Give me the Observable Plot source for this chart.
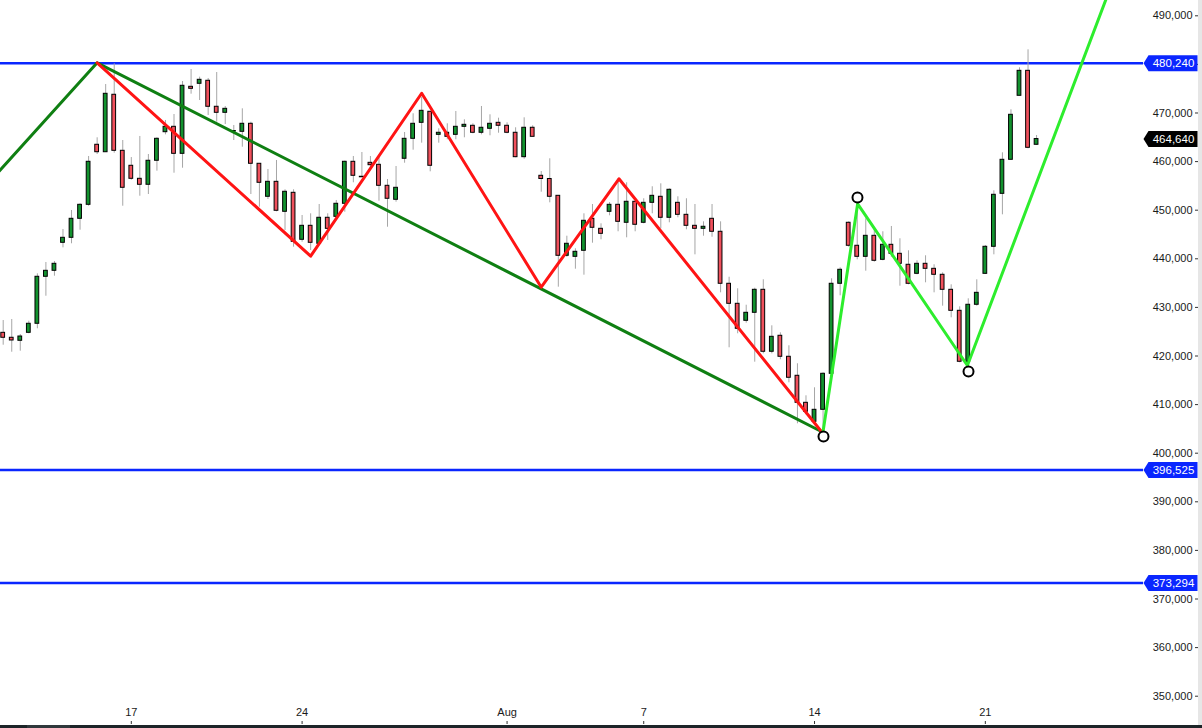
<!DOCTYPE html>
<html><head><meta charset="utf-8">
<script src="https://cdn.jsdelivr.net/npm/d3@7"></script>
<script src="https://cdn.jsdelivr.net/npm/@observablehq/plot@0.6"></script>
<style>
html,body{margin:0;padding:0;background:#fff;}
#wrap{position:relative;width:1202px;height:728px;overflow:hidden;background:#fff;}
#bar{position:absolute;left:0;top:725px;width:1202px;height:3px;background:#1c2428;}
#thumb{position:absolute;left:27px;top:725px;width:43px;height:3px;background:#30383c;}
#edge{position:absolute;left:1198px;top:0;width:4px;height:725px;background:#e6e6e6;}
</style></head><body>
<div id="wrap"><div id="chart"></div><div id="edge"></div><div id="bar"></div><div id="thumb"></div></div>
<script>
// ---- data ----
const opens = [
424770, 423750, 423130, 424770, 426630, 436300, 437530, 443290, 444320, 448230,
451110, 463460, 461930, 473750, 462220, 459140, 456460, 455230, 460170, 466050,
467160, 461600, 475390, 476010, 476630, 471280, 470040, 466340, 466130, 467780,
459550, 452760, 455840, 449670, 453580, 443910, 446790, 443090, 448440, 448640,
451320, 459960, 456930, 459750, 459340, 455020, 452140, 460580, 464690, 467980,
470250, 465510, 465930, 465510, 467160, 467370, 465930, 466750, 467980, 467370,
465930, 460910, 466960, 457080, 456420, 452960, 440620, 440410, 441650, 448230,
446170, 449670, 451110, 447410, 451730, 447410, 451520, 452760, 448440, 451520,
449050, 446790, 446170, 448230, 445560, 434860, 430740, 427240, 428890, 433620,
420870, 424160, 419840, 415930, 410370, 406460, 408930, 416340, 434860, 447410,
442680, 440410, 444730, 439790, 442880, 441030, 438770, 436910, 438970, 437940,
436710, 433620, 429300, 418810, 430540, 436910, 442470, 453370, 460370, 473540,
478680, 463460
];
const highs = [
427300, 427510, 424420, 427160, 436910, 439240, 439450, 446030, 449940, 451320,
461050, 464900, 475860, 480120, 464340, 460840, 465170, 461460, 464900, 468460,
469690, 476480, 478950, 477370, 477100, 478330, 471340, 467430, 470860, 468110,
459550, 458380, 460230, 454200, 454200, 448910, 449260, 451170, 449260, 452000,
460100, 461050, 461870, 461050, 460780, 456320, 458990, 465990, 469840, 473250,
470250, 466750, 467780, 470310, 468600, 467780, 471340, 469630, 468930, 467980,
466960, 469010, 467370, 457960, 460580, 452960, 444650, 442060, 449260, 451170,
447200, 451580, 456460, 455640, 451730, 452350, 454820, 455430, 454400, 452760,
452350, 451170, 447610, 451170, 447610, 436210, 433830, 430450, 433950, 435680,
426210, 424770, 422100, 418400, 411810, 413460, 416540, 435890, 438150, 447610,
451320, 448230, 446170, 445560, 446650, 444120, 441650, 439590, 440620, 438770,
437120, 434650, 430120, 431770, 435680, 442740, 453990, 461810, 470660, 479300,
483000, 465370
];
const lows = [
422220, 420780, 420990, 424570, 425600, 432300, 436420, 442260, 443090, 445890,
450820, 461460, 461930, 461730, 450820, 456170, 452880, 453230, 458030, 465510,
457610, 458640, 473870, 472570, 469490, 468110, 467630, 464340, 462960, 453230,
450620, 452200, 449670, 445820, 442390, 443420, 441710, 442880, 443770, 448230,
449590, 455640, 456790, 458170, 451850, 446500, 451650, 459670, 462350, 463790,
457900, 463790, 464490, 464490, 464900, 465720, 465510, 465310, 465840, 465720,
460780, 460490, 465100, 453700, 451520, 434160, 440330, 437860, 436630, 443210,
443910, 448850, 445560, 444320, 445560, 447200, 449260, 446170, 447410, 448440,
445970, 440820, 444650, 444440, 433000, 421690, 424570, 426750, 418730, 420450,
420450, 419220, 414490, 406050, 407900, 406050, 404670, 416130, 432390, 442390,
439790, 437450, 439300, 439590, 440330, 434360, 434650, 436710, 435060, 433000,
430250, 427860, 418600, 417980, 430250, 436770, 440820, 449050, 460370, 473540,
462630, 463310
];
const closes = [
423750, 423190, 424010, 426630, 436300, 437530, 438970, 444320, 448230, 451110,
459960, 461930, 473950, 462220, 454610, 456460, 455230, 460170, 464690, 467160,
461600, 475600, 474980, 476830, 471280, 470040, 470860, 466340, 467780, 459550,
455640, 455840, 449880, 453790, 443500, 446790, 443290, 448440, 446170, 451320,
459960, 457080, 456930, 459260, 455020, 452350, 454610, 464690, 467780, 470450,
459140, 465930, 465100, 467160, 467570, 465930, 466960, 467780, 467370, 465930,
460910, 466960, 465100, 456420, 452760, 440620, 443090, 441440, 447820, 446380,
445140, 451110, 447610, 451730, 447000, 451520, 452960, 448440, 454200, 449050,
446790, 446170, 446590, 445560, 434860, 430740, 425600, 428890, 433620, 420870,
423950, 419840, 415520, 410370, 408520, 408930, 416340, 434860, 437740, 442680,
440410, 444730, 439590, 442880, 441030, 438970, 434860, 438970, 437940, 436710,
433620, 429300, 418810, 430540, 433000, 442470, 453170, 460370, 469630, 478680,
462840, 464640
];

// x-axis (bar index of the first bar of each labelled day)
const xTickIdx = [15, 35, 59, 75, 95, 115];
const xTickLabels = ["17", "24", "Aug", "7", "14", "21"];
// y-axis ticks
const yTicks = [350000, 360000, 370000, 380000, 390000, 400000, 410000, 420000,
                430000, 440000, 450000, 460000, 470000, 480000, 490000];

// horizontal levels and last price
const levelValues = [480240, 396525, 373294];
const lastPrice = 464640;

// zig-zag pivots (bar index, price)
const darkGreenI = [-2, 11, 95.8];
const darkGreenV = [455080, 480330, 404470];
const redI = [11, 36, 49, 63, 72.1, 95.8];
const redV = [480330, 440540, 474070, 434160, 456460, 404470];
const limeI = [96, 100.05, 112.9, 133];
const limeV = [404470, 451320, 418050, 511370];
const circleI = [96.05, 100.03, 113.03];
const circleV = [403440, 452610, 416810];

// ---- build tables ----
const candles = opens.map((o, i) => ({i, open: o, high: highs[i], low: lows[i], close: closes[i]}));
const bodies = candles.filter(d => d.open !== d.close);
const dojis = candles.filter(d => d.open === d.close);
const pts = (I, V) => I.map((x, k) => ({i: x, v: V[k]}));
const tags = [
  ...levelValues.map(v => ({v, color: "#0a26ff"})),
  {v: lastPrice, color: "#000000"}
];
const fmt = d3.format(",");
const tagSymbol = {
  draw(ctx) {
    ctx.moveTo(0, 0); ctx.lineTo(5, -8); ctx.lineTo(54, -8);
    ctx.lineTo(54, 8); ctx.lineTo(5, 8); ctx.closePath();
  }
};

const chart = Plot.plot({
  width: 1202,
  height: 725,
  marginLeft: 0,
  marginRight: 59,
  marginTop: 0,
  marginBottom: 4,
  style: {fontFamily: "'Liberation Sans', Arial, sans-serif", fontSize: "11px", color: "#1a1a1a", background: "#fff"},
  x: {domain: [-0.316, 133.52], label: null},
  y: {domain: [344795, 493148], label: null},
  color: {type: "identity"},
  marks: [
    Plot.ruleY(levelValues, {stroke: "#0a26ff", strokeWidth: 2.5}),
    Plot.ruleX(candles, {x: "i", y1: "low", y2: "high", stroke: "#a6a6a6", strokeWidth: 1}),
    Plot.rect(bodies, {
      x1: d => d.i - 0.22, x2: d => d.i + 0.22, y1: "open", y2: "close",
      fill: d => d.close > d.open ? "#12922e" : "#f0505c", stroke: "#000", strokeWidth: 1
    }),
    Plot.ruleY(dojis, {y: "open", x1: d => d.i - 0.3, x2: d => d.i + 0.3, stroke: "#000", strokeWidth: 1.5}),
    Plot.line(pts(darkGreenI, darkGreenV), {x: "i", y: "v", stroke: "#0f7f12", strokeWidth: 3, clip: true}),
    Plot.line(pts(redI, redV), {x: "i", y: "v", stroke: "#ff1414", strokeWidth: 3, clip: true}),
    Plot.line(pts(limeI, limeV), {x: "i", y: "v", stroke: "#2ded2d", strokeWidth: 3, clip: true}),
    Plot.dot(pts(circleI, circleV), {x: "i", y: "v", r: 5, fill: "#fff", stroke: "#000", strokeWidth: 2}),
    Plot.axisX({anchor: "bottom", ticks: xTickIdx, tickSize: 3, tickFormat: () => "", stroke: "#333", label: null}),
    Plot.text(xTickIdx, {x: d => d, text: (d, k) => xTickLabels[k], frameAnchor: "bottom", textAnchor: "middle", dy: -6, fill: "#1a1a1a"}),
    Plot.axisY({anchor: "right", ticks: yTicks, tickSize: 0, tickPadding: 0, textAnchor: "end", dx: 49, tickFormat: fmt, fill: "#1a1a1a", label: null}),
    Plot.axisY({anchor: "right", ticks: yTicks, tickSize: 4, dx: 51, tickFormat: () => "", stroke: "#333", label: null}),
    Plot.dot(tags, {y: "v", fill: "color", symbol: tagSymbol, frameAnchor: "right", r: 8}),
    Plot.text(tags, {y: "v", text: d => fmt(d.v), frameAnchor: "right", textAnchor: "middle", dx: 30, fill: "#fff", fontSize: 11.5})
  ]
});
document.getElementById("chart").appendChild(chart);
</script>
</body></html>
